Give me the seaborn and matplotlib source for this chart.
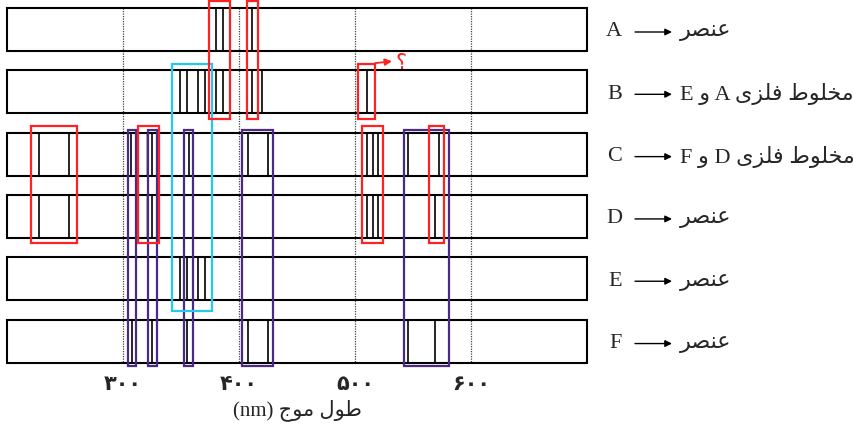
import matplotlib
matplotlib.use("Agg")
import matplotlib.pyplot as plt
from matplotlib.patches import Rectangle
import seaborn as sns

# rows of the spectrum chart, top to bottom
elements = ['A', 'B', 'C', 'D', 'E', 'F']

# emission lines of each sample (nm)
lines_A = [380.1, 386.4, 411.4]
lines_B = [349.0, 354.8, 364.8, 370.6, 380.1, 386.4, 411.4, 419.8, 510.1]
lines_C = [227.3, 253.2, 306.7, 325.1, 357.0, 407.3, 424.7, 510.1, 515.3, 520.1, 546.0, 572.8]
lines_D = [227.3, 253.2, 325.1, 510.1, 515.3, 520.1, 569.5]
lines_E = [349.0, 354.8, 364.8, 370.6]
lines_F = [307.2, 325.1, 354.8, 407.3, 424.7, 546.0, 569.5]
spectra = [lines_A, lines_B, lines_C, lines_D, lines_E, lines_F]

# faint (grey) line seen in C and D
faint_line = 320.3
faint_rows = ['C', 'D']

# highlight boxes: (nm from, nm to, first row, last row)
red_boxes = [(374.2, 392.3, 'A', 'B'), (406.6, 416.3, 'A', 'B'), (502.9, 517.3, 'B', 'B'),
             (220.2, 260.4, 'C', 'D'), (313.0, 331.2, 'C', 'D'), (505.8, 523.9, 'C', 'D'),
             (564.2, 577.1, 'C', 'D')]
cyan_boxes = [(341.9, 376.9, 'B', 'E')]
purple_boxes = [(303.9, 310.8, 'C', 'F'), (321.7, 328.9, 'C', 'F'), (352.7, 360.0, 'C', 'F'),
                (402.8, 429.0, 'C', 'F'), (542.3, 581.2, 'C', 'F')]

wl_min, wl_max = 200, 700
ticks = [300, 400, 500, 600]
tick_labels = ['\u06F3\u06F0\u06F0', '\u06F4\u06F0\u06F0', '\u06F5\u06F0\u06F0', '\u06F6\u06F0\u06F0']

# Persian text, written in presentation forms and visual order
ONSOR = '\uFEAE\uFEBC\uFEE8\uFECB'              # عنصر
MAKHLOOT = '\uFEC1\uFEEE\uFEE0\uFEA8\uFEE3'     # مخلوط
FELEZI = '\uFBFC\uFEB0\uFEE0\uFED3'             # فلزی
VA = '\uFEED'                                   # و
descriptions = [ONSOR,
                'E ' + VA + ' A ' + FELEZI + ' ' + MAKHLOOT,
                'F ' + VA + ' D ' + FELEZI + ' ' + MAKHLOOT,
                ONSOR, ONSOR, ONSOR]
xlabel = '(nm) ' + '\uFE9D\uFEEE\uFEE3' + ' ' + '\uFEDD\uFEEE\uFEC3'   # طول موج (nm)
question = '\u061F'

sns.set_theme(style='white')
plt.rcParams['font.family'] = ['Liberation Serif', 'DejaVu Sans']

fig = plt.figure(figsize=(8.54, 4.36), dpi=100)
ax = fig.add_axes([7.3 / 854, 0.1463, 579.4 / 854, 0.8537])
ax.set_xlim(wl_min, wl_max)
ax.set_ylim(5.5, -0.4735)

row_pos = {el: i for i, el in enumerate(elements)}
half = 0.345

# strips
ax.barh(range(len(elements)), wl_max - wl_min, left=wl_min, height=2 * half,
        facecolor='none', edgecolor='black', linewidth=1.5, zorder=3, clip_on=False)

# grid lines
ax.vlines(ticks, -half, len(elements) - 1 + half, colors='#444444',
          linestyles=(0, (1, 1)), linewidth=0.9, zorder=1)

# spectral lines
for i, wl in enumerate(spectra):
    ax.vlines(wl, i - half, i + half, colors='black', linewidth=1.2, zorder=2)
for el in faint_rows:
    i = row_pos[el]
    ax.vlines(faint_line, i - half, i + half, colors='#9a9a9a', linewidth=1.8, zorder=2)


def draw_boxes(boxes, color, pad_top, pad_bot):
    for lo, hi, r0, r1 in boxes:
        y0 = row_pos[r0] - pad_top
        y1 = row_pos[r1] + pad_bot
        ax.add_patch(Rectangle((lo, y0), hi - lo, y1 - y0, fill=False, edgecolor=color,
                               linewidth=1.6, zorder=5, clip_on=False))


draw_boxes(purple_boxes, '#4a2a86', 0.39, 0.40)
draw_boxes(cyan_boxes, '#25c8ef', 0.45, 0.51)
draw_boxes(red_boxes, '#ff2222', 0.45, 0.43)

# question mark on the unknown line in B
q_box = red_boxes[2]
ax.annotate('', xy=(532.0, row_pos['B'] - 0.49), xytext=(q_box[1], row_pos['B'] - 0.46),
            arrowprops=dict(arrowstyle='-|>', color='#ff2222', lw=1.3, mutation_scale=10,
                            shrinkA=0, shrinkB=0), annotation_clip=False, zorder=6)
ax.text(539.5, row_pos['B'] - 0.47, question, color='#ff2222', fontsize=15,
        ha='center', va='center', family=['DejaVu Sans'])

# labels on the right
for i, (el, desc) in enumerate(zip(elements, descriptions)):
    y = i + 0.04
    ax.annotate(el, xy=(622 / 854, y), xycoords=('figure fraction', 'data'),
                ha='right', va='center', fontsize=16, annotation_clip=False)
    ax.annotate('', xy=(672 / 854, y), xytext=(635 / 854, y),
                xycoords=('figure fraction', 'data'), textcoords=('figure fraction', 'data'),
                arrowprops=dict(arrowstyle='-|>', color='black', lw=1.0, mutation_scale=10,
                                shrinkA=0, shrinkB=0), annotation_clip=False)
    ax.annotate(desc, xy=(680 / 854, y), xycoords=('figure fraction', 'data'),
                ha='left', va='center', fontsize=16, annotation_clip=False)

ax.set_xticks(ticks)
ax.set_xticklabels(tick_labels, fontsize=15, fontweight='bold', family=['DejaVu Sans'])
ax.set_yticks([])
ax.tick_params(axis='x', length=0, pad=1)
ax.set_xlabel(xlabel, fontsize=15, labelpad=4)
sns.despine(ax=ax, left=True, bottom=True)
ax.grid(False)

fig.savefig('out.png', dpi=100)
